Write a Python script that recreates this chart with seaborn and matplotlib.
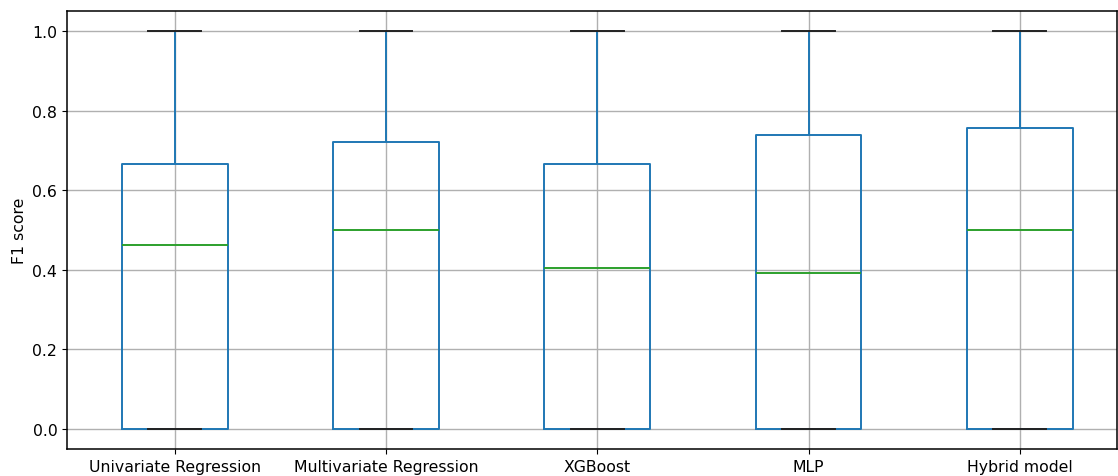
import seaborn as sns
import matplotlib.pyplot as plt
import pandas as pd

models = [
    "Univariate Regression",
    "Multivariate Regression",
    "XGBoost",
    "MLP",
    "Hybrid model",
]
# box summary per model
f1_min = [0.0, 0.0, 0.0, 0.0, 0.0]
f1_q1 = [0.0, 0.0, 0.0, 0.0, 0.0]
f1_median = [0.462, 0.500, 0.405, 0.393, 0.500]
f1_q3 = [0.667, 0.721, 0.667, 0.739, 0.756]
f1_max = [1.0, 1.0, 1.0, 1.0, 1.0]

# five points per model reproduce these quartiles exactly
rows = []
for i, m in enumerate(models):
    for v in [f1_min[i], f1_q1[i], f1_median[i], f1_q3[i], f1_max[i]]:
        rows.append({"model": m, "f1": v})
df = pd.DataFrame(rows)

plt.rcParams["font.size"] = 11.3

fig = plt.figure(figsize=(11.18, 4.77), dpi=100)
ax = fig.add_axes([67 / 1118, 1 - 450 / 477, 1050 / 1118, 438 / 477])

sns.boxplot(
    data=df,
    x="model",
    y="f1",
    order=models,
    fill=False,
    color="#1f77b4",
    width=0.5,
    linewidth=1.4,
    whis=1.5,
    medianprops=dict(color="#2ca02c"),
    capprops=dict(color="#222222"),
    ax=ax,
)

ax.grid(True, color="#b0b0b0", linewidth=1.0)
ax.set_axisbelow(True)
ax.set_xlim(-0.51, 4.46)
ax.set_ylim(-0.05, 1.05)
ax.set_xlabel("")
ax.set_ylabel("F1 score")
for s in ax.spines.values():
    s.set_linewidth(1.1)

fig.savefig("out.png", dpi=100)
